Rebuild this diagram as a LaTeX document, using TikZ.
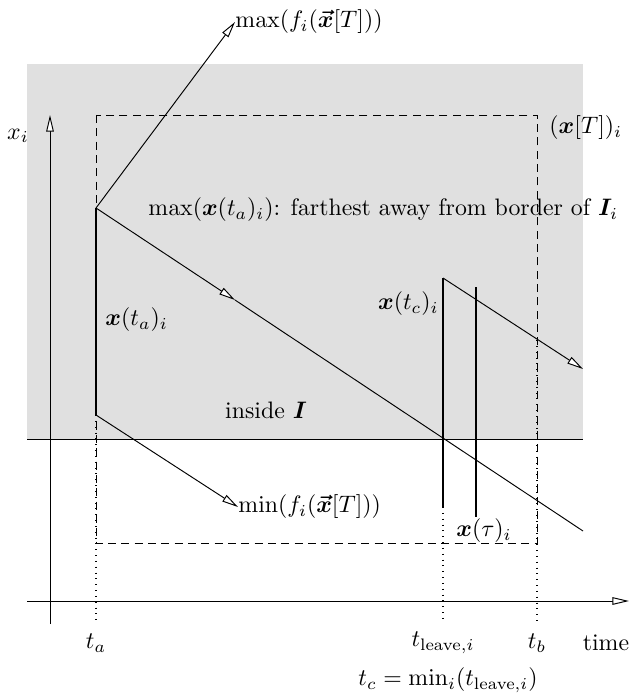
\documentclass[tikz,border=0pt]{standalone}
\usepackage{amsmath,amssymb,bm}
\usetikzlibrary{arrows.meta}
\definecolor{shadegray}{rgb}{0.88,0.88,0.88}
\begin{document}
\begin{tikzpicture}[x=0.42pt,y=-0.42pt,
  tip/.style={-{Triangle[length=6.8pt,width=3.2pt,fill=white,line width=0.4pt]}},
  axistip/.style={-{Triangle[length=7pt,width=3.2pt,fill=white,line width=0.4pt]}},
  bar/.style={line width=1.15pt},
  thinline/.style={line width=0.4pt},
  dashbox/.style={line width=0.4pt,dash pattern=on 3.4pt off 2.2pt},
  dotline/.style={line width=0.45pt,dotted},
  lbl/.style={inner sep=0pt,font=\normalsize}]
\useasboundingbox (0,0) rectangle (629,693);
% shaded region
\fill[shadegray] (27,64) rectangle (583,439);
\coordinate (bl) at (27,439);
\coordinate (br) at (583,439);
\draw[thinline] (bl) -- (br);
% dashed box
\coordinate (d1) at (96,115);
\coordinate (d2) at (537,543);
\draw[dashbox] (d1) rectangle (d2);
% axes
\coordinate (ybot) at (50,624);
\coordinate (ytop) at (50,115);
\draw[thinline,axistip] (ybot) -- (ytop);
\coordinate (xl) at (27,601);
\coordinate (xr) at (629,601);
\draw[thinline,axistip] (xl) -- (xr);
% points
\coordinate (A) at (96,208);
\coordinate (B) at (96,415);
\coordinate (M) at (235,300);
\coordinate (E) at (583,531);
\coordinate (C) at (443,278);
\coordinate (Cb) at (443,507);
\coordinate (D) at (476,287);
\coordinate (Db) at (476,517);
\coordinate (F) at (583,369);
\coordinate (G) at (537,340);
% dotted verticals
\coordinate (ta) at (96,624);
\coordinate (tl) at (443,620);
\coordinate (tb) at (537,624);
\draw[dotline] (B) -- (ta);
\draw[dotline] (Cb) -- (tl);
\draw[dotline] (G) -- (tb);
% bars
\draw[bar] (A) -- (B);
\draw[bar] (C) -- (Cb);
\draw[bar] (D) -- (Db);
% labels with arrows
\node[lbl,anchor=west] (maxf) at (235,22) {$\max(f_i(\boldsymbol{\vec{x}}[T]))$};
\node[lbl,anchor=west] (minf) at (238,507) {$\min(f_i(\boldsymbol{\vec{x}}[T]))$};
\draw[thinline,tip] (A) -- (maxf.west);
\draw[thinline,tip] (B) -- (minf.west);
\draw[thinline,tip] (A) -- (M);
\draw[thinline] (M) -- (E);
\draw[thinline,tip] (C) -- (F);
% text
\node[lbl] (xi) at (18,136) {$x_i$};
\node[lbl,anchor=west] (far) at (148,210) {$\max(\boldsymbol{x}(t_a)_i)$: farthest away from border of $\boldsymbol{I}_i$};
\node[lbl,anchor=west] (xT) at (549,128) {$(\boldsymbol{x}[T])_i$};
\node[lbl,anchor=west] (xta) at (105,320) {$\boldsymbol{x}(t_a)_i$};
\node[lbl] (inside) at (266,410) {inside $\boldsymbol{I}$};
\node[lbl,anchor=east] (xtc) at (439,304) {$\boldsymbol{x}(t_c)_i$};
\node[lbl] (xtau) at (484,531) {$\boldsymbol{x}(\tau)_i$};
\node[lbl] (lta) at (96,643) {$t_a$};
\node[lbl] (ltl) at (443,643) {$t_{\text{leave},i}$};
\node[lbl] (ltb) at (537,643) {$t_b$};
\node[lbl] (time) at (606,643) {time};
\node[lbl] (tc) at (448,680) {$t_c=\min_i(t_{\text{leave},i})$};
\end{tikzpicture}
\end{document}
